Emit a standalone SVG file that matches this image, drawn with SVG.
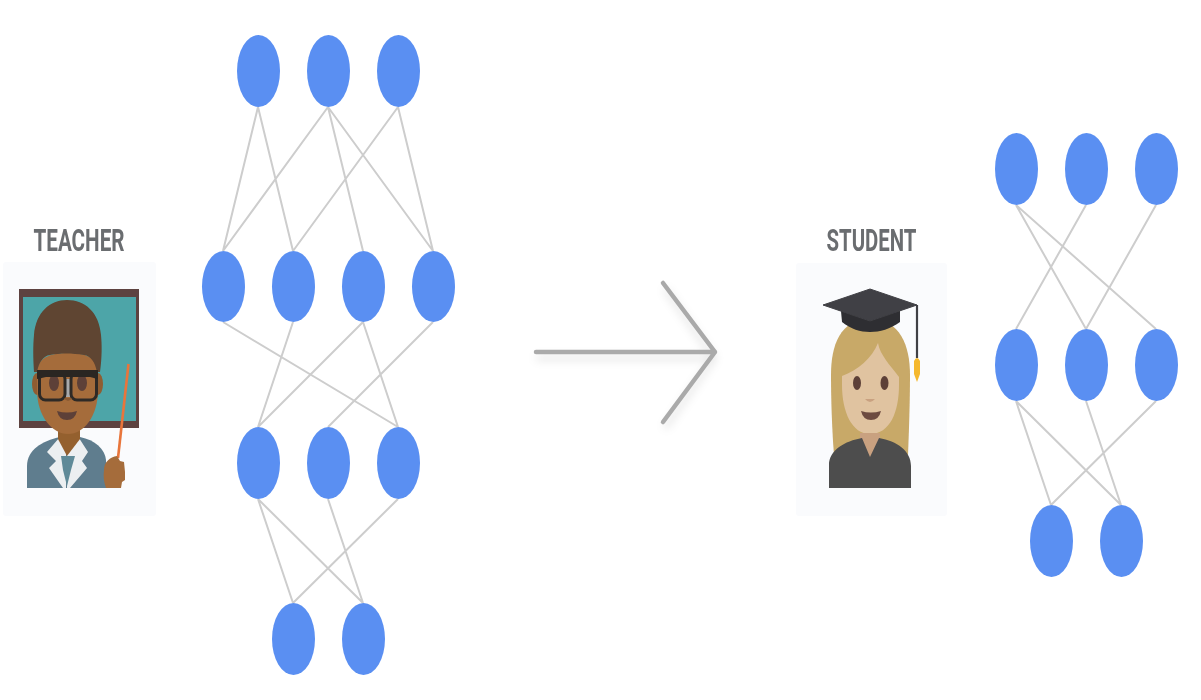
<svg xmlns="http://www.w3.org/2000/svg" width="1201" height="700" viewBox="0 0 1201 700">
<style>
.n{fill:#5a8ff2}
.e{stroke:#cdcdcd;stroke-width:2;fill:none}
.t{font-family:Roboto,"Liberation Sans",sans-serif;font-weight:700;font-size:31.500px;fill:#6b6d70}
.p{fill:#fafbfd}
.a{stroke:#aaaaaa;stroke-width:4.500;stroke-linecap:round;stroke-linejoin:round;fill:none}
</style>
<defs>
<filter id="soft" x="-10%" y="-10%" width="120%" height="120%"><feGaussianBlur stdDeviation="0.500"/></filter>
<filter id="sh" x="-20%" y="-20%" width="140%" height="140%"><feGaussianBlur stdDeviation="4"/></filter>
</defs>
<rect width="1201" height="700" fill="#fff"/>

<g id="connectors">
<g id="teacher-edges" class="e">
<path d="M258 107L223 251M258 107L293 251M328 107L223 251M328 107L363 251M328 107L433 251M398 107L293 251M398 107L433 251"/>
<path d="M223 322L398 427M293 322L258 427M363 322L258 427M363 322L398 427M433 322L328 427"/>
<path d="M258 499L293 603M258 499L363 603M328 499L363 603M398 499L293 603"/>
</g>
<g id="student-edges" class="e">
<path d="M1016 205L1086 329M1016 205L1156 329M1086 205L1016 329M1156 205L1086 329"/>
<path d="M1016 401L1051 505M1016 401L1121 505M1086 401L1121 505M1156 401L1051 505"/>
</g>
</g>

<g id="arrow">
<path d="M536 358H714M665 289L714 358L665 428" stroke="#000" stroke-opacity=".1" stroke-width="5" fill="none" filter="url(#sh)"/>
<path class="a" d="M536 352H715M663 283L715 352L663 422" filter="url(#soft)"/>
</g>

<g id="teacher">
<rect class="p" x="3" y="262" width="153" height="254" rx="3"/>
<text class="t" x="33.500" y="251" textLength="91" lengthAdjust="spacingAndGlyphs" filter="url(#soft)">TEACHER</text>
<g filter="url(#soft)">
<rect x="19" y="289" width="120" height="139" fill="#5d4340"/>
<rect x="23" y="297" width="113" height="124" fill="#4ea5a8"/>
<path d="M27 488V466C27 450 42 441 60 437H80C95 440 105 449 106 460V488Z" fill="#5f7d8e"/>
<path d="M59 438L47 452L56 461L49 468L63 488H66V452Z" fill="#eceff1"/>
<path d="M79 438L88 452L82 461L87 468L70 488H67V452Z" fill="#eceff1"/>
<path d="M61 456H75L71 470L67 486L63 470Z" fill="#5f8a98"/>
<path d="M58 428H80V439L67 456L58 439Z" fill="#94602f"/>
<ellipse cx="37" cy="384" rx="5" ry="11" fill="#8f5d32"/>
<ellipse cx="98" cy="384" rx="5" ry="11" fill="#8f5d32"/>
<path d="M37 372C37 358 50 353 68 353C86 353 98 358 98 372V390C98 416 84 434 68 434C52 434 37 416 37 390Z" fill="#a56c3b"/>
<path d="M34 372C33 358 33 345 34 335C36 312 50 300 67 300C85 300 99 312 101 335C102 345 102 358 100 372H97C95 362 91 356 84 355C72 353 60 353 50 355C43 356 39 362 37 372Z" fill="#5e4431"/>
<ellipse cx="54" cy="383" rx="5" ry="8" fill="#5d4037"/>
<ellipse cx="82" cy="383" rx="5" ry="8" fill="#5d4037"/>
<path d="M65 379H71V397H65Z" fill="#a8aaac"/>
<rect x="39.500" y="373" width="25.500" height="27" rx="6" fill="none" stroke="#2f2a26" stroke-width="3"/>
<rect x="71" y="373" width="25.500" height="27" rx="6" fill="none" stroke="#2f2a26" stroke-width="3"/>
<path d="M37 370H98V379L90 377H46L37 379Z" fill="#2a2522"/>
<path d="M64 398Q68 404 72 398" fill="#8a5a30"/>
<path d="M57 411Q67 414 77 411Q75 420 67 420Q59 420 57 411Z" fill="#5d4037"/>
<path d="M128.500 364L118 458" stroke="#e8743b" stroke-width="2.600" fill="none"/>
<path d="M104 470C104 462 110 457 117 456L120 461L124 462L125 472L125 480L122 482L121 488H106C104 482 103 477 104 470Z" fill="#a56c3b"/>
</g>
</g>

<g id="student">
<rect class="p" x="796" y="263" width="151" height="253" rx="3"/>
<text class="t" x="826.500" y="251" textLength="90" lengthAdjust="spacingAndGlyphs" filter="url(#soft)">STUDENT</text>
<g filter="url(#soft)">
<path d="M831 375C831 345 840 320 870 318C900 320 910 345 910 375C910 400 909 430 908 455H834C832 430 831 400 831 375Z" fill="#c8a968"/>
<path d="M878 343C872 358 858 370 842 376V385C842 412 852 434 870 434C890 434 899 412 899 385V377C890 365 880 355 878 343Z" fill="#e0c3a0"/>
<ellipse cx="857" cy="383" rx="4" ry="7" fill="#5d4037"/>
<ellipse cx="884.500" cy="383" rx="4" ry="7" fill="#5d4037"/>
<path d="M865 399Q870 405 875 399Z" fill="#c9a180"/>
<path d="M861 411Q871 414 881 411Q879 420 871 420Q863 420 861 411Z" fill="#6d4c41"/>
<path d="M860 433H880V444L870 458L860 444Z" fill="#c9a180"/>
<path d="M829 488V465C829 450 845 441 862 438L870 457L879 438C897 441 911 451 911 466V488Z" fill="#4d4d4d"/>
<path d="M841 311H900V322C890 329 880 332 870 332C860 332 851 329 842 322Z" fill="#2d2d30"/>
<path d="M823 305L870 289L917 305L870 321Z" fill="#404045" stroke="#404045" stroke-linejoin="round"/>
<path d="M917 305V358" stroke="#404045" stroke-width="2.200" fill="none"/>
<path d="M914 361Q917 355 920 361V374L917 382L914 374Z" fill="#f5b82e"/>
</g>
</g>

<g id="teacher-net">
<g id="t1"><ellipse class="n" cx="258.500" cy="71" rx="21.500" ry="36"/></g>
<g id="t2"><ellipse class="n" cx="328.500" cy="71" rx="21.500" ry="36"/></g>
<g id="t3"><ellipse class="n" cx="398.500" cy="71" rx="21.500" ry="36"/></g>
<g id="t4"><ellipse class="n" cx="223.500" cy="286.500" rx="21.500" ry="35.500"/></g>
<g id="t5"><ellipse class="n" cx="293.500" cy="286.500" rx="21.500" ry="35.500"/></g>
<g id="t6"><ellipse class="n" cx="363.500" cy="286.500" rx="21.500" ry="35.500"/></g>
<g id="t7"><ellipse class="n" cx="433.500" cy="286.500" rx="21.500" ry="35.500"/></g>
<g id="t8"><ellipse class="n" cx="258.500" cy="463" rx="21.500" ry="36"/></g>
<g id="t9"><ellipse class="n" cx="328.500" cy="463" rx="21.500" ry="36"/></g>
<g id="t10"><ellipse class="n" cx="398.500" cy="463" rx="21.500" ry="36"/></g>
<g id="t11"><ellipse class="n" cx="293.500" cy="639" rx="21.500" ry="36"/></g>
<g id="t12"><ellipse class="n" cx="363.500" cy="639" rx="21.500" ry="36"/></g>
</g>

<g id="student-net">
<g id="s1"><ellipse class="n" cx="1016.500" cy="169" rx="21.500" ry="36"/></g>
<g id="s2"><ellipse class="n" cx="1086.500" cy="169" rx="21.500" ry="36"/></g>
<g id="s3"><ellipse class="n" cx="1156.500" cy="169" rx="21.500" ry="36"/></g>
<g id="s4"><ellipse class="n" cx="1016.500" cy="365" rx="21.500" ry="36"/></g>
<g id="s5"><ellipse class="n" cx="1086.500" cy="365" rx="21.500" ry="36"/></g>
<g id="s6"><ellipse class="n" cx="1156.500" cy="365" rx="21.500" ry="36"/></g>
<g id="s7"><ellipse class="n" cx="1051.500" cy="541" rx="21.500" ry="36"/></g>
<g id="s8"><ellipse class="n" cx="1121.500" cy="541" rx="21.500" ry="36"/></g>
</g>
</svg>
